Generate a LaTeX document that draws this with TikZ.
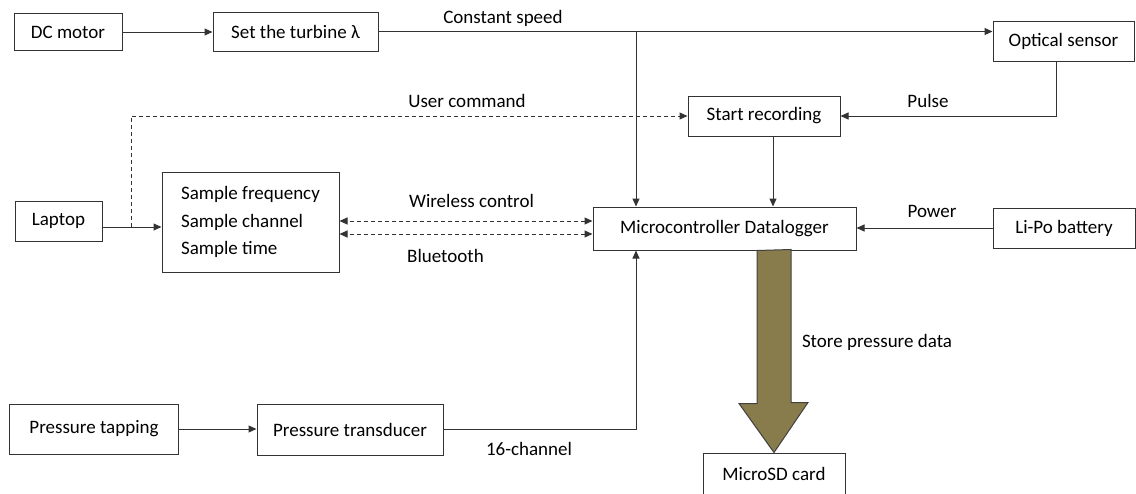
\documentclass[tikz,border=0pt]{standalone}
\usepackage{fontspec}
\setmainfont{Carlito}
\usetikzlibrary{arrows.meta}
\definecolor{storeolive}{RGB}{136,124,76}

\begin{document}
\begin{tikzpicture}[
    x=1pt,y=-1pt,
    font=\fontsize{19}{27.5}\selectfont,
    box/.style={draw=black!80,line width=1pt,inner sep=0pt,align=center},
    conn/.style={draw=black!80,line width=1pt},
    dashline/.style={dash pattern=on 4pt off 3pt},
    lbl/.style={inner sep=0pt},
    bigarrow/.style={draw=black!75,line width=1pt,fill=storeolive},
    >={Triangle[length=8pt,width=7pt]}]
  \useasboundingbox (0,0) rectangle (1136,493);
  \clip (0,0) rectangle (1136,493);
  % blocks
  \node[box,minimum width=108,minimum height=37] (dc) at (68,32) {DC motor};
  \node[box,minimum width=165,minimum height=39] (turbine) at (295.5,31.5) {Set the turbine λ};
  \node[box,minimum width=141,minimum height=40] (optical) at (1063.5,41) {Optical sensor};
  \node[box,minimum width=152,minimum height=40] (start) at (764,116) {Start recording};
  \node[box,minimum width=87,minimum height=40] (laptop) at (58.5,221) {Laptop};
  \node[box,minimum width=177,minimum height=100,align=left] (sample) at (250.5,222)
    {Sample frequency\\Sample channel\\Sample time};
  \node[box,minimum width=263,minimum height=43] (micro) at (724.5,228.5) {Microcontroller Datalogger};
  \node[box,minimum width=142,minimum height=40] (lipo) at (1064,228) {Li-Po battery};
  \node[box,minimum width=169,minimum height=50] (tapping) at (94,429) {Pressure tapping};
  \node[box,minimum width=186,minimum height=51] (transducer) at (350,429.5) {Pressure transducer};
  \node[box,minimum width=142,minimum height=42] (sd) at (774,474) {MicroSD card};
  % labels
  \node[lbl] (speedlbl) at (503,18) {Constant speed};
  \node[lbl] (cmdlbl) at (467,100.5) {User command};
  \node[lbl] (pulselbl) at (928,101) {Pulse};
  \node[lbl] (wirelbl) at (471.5,200.5) {Wireless control};
  \node[lbl] (btlbl) at (445.5,255.5) {Bluetooth};
  \node[lbl] (powerlbl) at (932,211) {Power};
  \node[lbl] (chanlbl) at (529,449) {16-channel};
  \node[lbl] (storelbl) at (877,342.5) {Store pressure data};
  % connectors
  \coordinate (tap) at (636,31.5);
  \coordinate (fork) at (131,227);
  \draw[conn,->] (dc.east) -- (dc.east -| turbine.west);
  \draw[conn,->] (turbine.east) -- (turbine.east -| optical.west);
  \draw[conn,->] (tap) -- (tap |- micro.north);
  \draw[conn,->] ([xshift=-7.5pt]optical.south) |- (start.east);
  \draw[conn,->] ([xshift=9pt]start.south) -- ([xshift=9pt]start.south |- micro.north);
  \draw[conn,->] ([yshift=-6pt]laptop.east) -- ([yshift=-6pt]laptop.east -| sample.west);
  \draw[conn,dashline,->] (fork) |- (start.west);
  \draw[conn,dashline,<->] ([yshift=7.5pt]micro.west) -- ([yshift=7.5pt]micro.west -| sample.east);
  \draw[conn,dashline,<->] ([yshift=-5.5pt]micro.west) -- ([yshift=-5.5pt]micro.west -| sample.east);
  \draw[conn,->] (lipo.west) -- (lipo.west -| micro.east);
  \draw[conn,->] (tapping.east) -- (tapping.east -| transducer.west);
  \draw[conn,->] (transducer.east) -| (tap |- micro.south);
  % storage arrow
  \draw[bigarrow] (micro.south -| sd.north) ++(-17,0) -- ++(0,153) -- ++(-18,0)
    -- (sd.north) -- ++(34,-50) -- ++(-17,0) -- ++(0,-153) -- cycle;
\end{tikzpicture}
\end{document}
